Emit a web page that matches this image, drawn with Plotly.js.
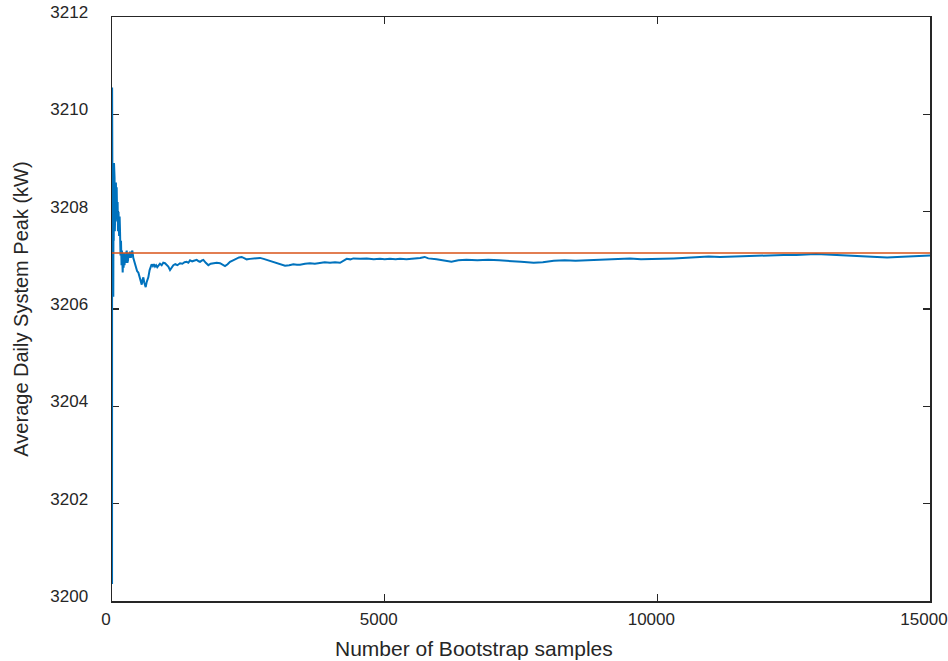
<!DOCTYPE html>
<html>
<head>
<meta charset="utf-8">
<script src="https://cdn.plot.ly/plotly-3.0.1.min.js"></script>
<style>
  html, body { margin: 0; padding: 0; background: #ffffff; }
  #chart { width: 948px; height: 661px; }
</style>
</head>
<body>
<div id="chart"></div>
<script>
// Running average of the daily system peak as bootstrap samples accumulate
const sampleCount = [
  1, 2, 3, 4, 5, 6, 7, 8, 9, 10, 12, 14, 16, 18, 20, 24, 28, 32, 37, 42,
  47, 52, 58, 65, 72, 80, 86, 95, 103, 110, 120, 130, 140, 147, 156, 165, 175, 183, 190, 196,
  205, 213, 220, 230, 238, 250, 260, 270, 282, 293, 305, 318, 330, 345, 360, 373, 390, 405, 422, 440,
  460, 483, 500, 513, 530, 545, 560, 575, 590, 605, 618, 635, 650, 666, 690, 710, 727, 750, 770, 789,
  810, 830, 850, 880, 911, 940, 972, 1000, 1033, 1064, 1095, 1125, 1160, 1200, 1247, 1290, 1330, 1370, 1400, 1431,
  1470, 1510, 1553, 1590, 1614, 1650, 1675, 1720, 1767, 1810, 1858, 1920, 1981, 2030, 2072, 2120, 2164, 2220, 2286, 2330,
  2378, 2420, 2470, 2530, 2592, 2650, 2714, 2780, 2837, 2900, 2959, 3020, 3081, 3130, 3173, 3250, 3325, 3390, 3448, 3540,
  3631, 3720, 3815, 3900, 3998, 4090, 4182, 4250, 4304, 4370, 4426, 4550, 4671, 4800, 4915, 5000, 5098, 5200, 5282, 5400,
  5550, 5650, 5733, 5800, 5950, 6100, 6225, 6350, 6500, 6700, 6900, 7100, 7300, 7500, 7732, 7900, 8100, 8300, 8500, 8700,
  8900, 9100, 9300, 9500, 9700, 9900, 10100, 10300, 10500, 10700, 10942, 11150, 11400, 11600, 11850, 12100, 12315, 12550, 12750, 12906,
  13100, 13300, 13550, 13800, 14000, 14214, 14400, 14600, 14800, 15000
];

const runningMean = [
  3200.35, 3210.55, 3203.4, 3206.2, 3208.8, 3205.4, 3207.7, 3206.3, 3209.4, 3207.0, 3208.6, 3206.4, 3208.3, 3206.8, 3207.9, 3206.25, 3208.6, 3207.4, 3209.0, 3207.8,
  3208.7, 3207.6, 3208.4, 3207.7, 3208.6, 3207.9, 3208.5, 3207.8, 3208.2, 3207.6, 3208.0, 3207.5, 3207.9, 3207.6, 3207.1, 3207.4, 3206.9, 3207.2, 3206.85, 3206.75,
  3207.1, 3206.85, 3207.15, 3206.9, 3207.05, 3206.95, 3207.15, 3207.2, 3206.95, 3207.0, 3207.15, 3207.05, 3207.18, 3207.05, 3207.15, 3207.2, 3207.05, 3206.98, 3206.92, 3206.85,
  3206.78, 3206.75, 3206.68, 3206.6, 3206.58, 3206.5, 3206.6, 3206.65, 3206.55, 3206.5, 3206.45, 3206.55, 3206.6, 3206.65, 3206.8, 3206.9, 3206.92, 3206.88, 3206.92, 3206.87,
  3206.9, 3206.86, 3206.9, 3206.93, 3206.9, 3206.95, 3206.94, 3206.9, 3206.87, 3206.8, 3206.86, 3206.9, 3206.92, 3206.9, 3206.94, 3206.93, 3206.96, 3206.97, 3206.95, 3207.0,
  3206.98, 3207.0, 3207.01, 3206.98, 3206.97, 3207.0, 3207.01, 3206.95, 3206.9, 3206.93, 3206.94, 3206.95, 3206.94, 3206.9, 3206.88, 3206.92, 3206.97, 3207.0, 3207.04, 3207.06,
  3207.07, 3207.04, 3207.02, 3207.03, 3207.04, 3207.05, 3207.05, 3207.03, 3207.01, 3206.99, 3206.97, 3206.94, 3206.92, 3206.9, 3206.89, 3206.9, 3206.92, 3206.91, 3206.91, 3206.93,
  3206.94, 3206.93, 3206.94, 3206.96, 3206.95, 3206.96, 3206.95, 3207.0, 3207.03, 3207.02, 3207.04, 3207.03, 3207.04, 3207.02, 3207.03, 3207.02, 3207.03, 3207.02, 3207.03, 3207.02,
  3207.03, 3207.05, 3207.07, 3207.04, 3207.02, 3206.99, 3206.97, 3207.0, 3207.01, 3207.0, 3207.01, 3207.0, 3206.99, 3206.97, 3206.95, 3206.96, 3206.99, 3207.0, 3206.99, 3207.0,
  3207.01, 3207.03, 3207.03, 3207.04, 3207.02, 3207.02, 3207.03, 3207.04, 3207.05, 3207.07, 3207.08, 3207.07, 3207.08, 3207.08, 3207.09, 3207.1, 3207.11, 3207.11, 3207.12, 3207.13,
  3207.12, 3207.11, 3207.1, 3207.09, 3207.07, 3207.06, 3207.07, 3207.08, 3207.09, 3207.1
];

// Average over the full data set, drawn as a flat reference line
const referencePeak = 3207.15;
const xRange = [0, 15000];

const xTicks = [0, 5000, 10000, 15000];
const yTicks = [3200, 3202, 3204, 3206, 3208, 3210, 3212];

const xTitle = 'Number of Bootstrap samples';
const yTitle = 'Average Daily System Peak (kW)';

const axisColor = '#262626';
const fontFamily = '"Liberation Sans", Arial, Helvetica, sans-serif';

const traces = [
  {
    x: sampleCount,
    y: runningMean,
    type: 'scatter',
    mode: 'lines',
    line: { color: '#0072BD', width: 2 },
    hoverinfo: 'x+y'
  },
  {
    x: xRange,
    y: [referencePeak, referencePeak],
    type: 'scatter',
    mode: 'lines',
    line: { color: '#D95319', width: 1.5 },
    hoverinfo: 'y'
  }
];

const commonAxis = {
  showgrid: false,
  zeroline: false,
  showline: true,
  linecolor: axisColor,
  linewidth: 1.5,
  mirror: 'ticks',
  ticks: 'inside',
  ticklen: 7,
  tickwidth: 1.2,
  tickcolor: axisColor,
  tickfont: { family: fontFamily, size: 17, color: axisColor },
  ticklabeloverflow: 'allow',
  layer: 'below traces'
};

const layout = {
  width: 948,
  height: 661,
  margin: { l: 112, r: 18, t: 17, b: 60 },
  paper_bgcolor: '#ffffff',
  plot_bgcolor: '#ffffff',
  showlegend: false,
  font: { family: fontFamily, color: axisColor },
  xaxis: Object.assign({}, commonAxis, {
    range: xRange,
    tickmode: 'array',
    tickvals: xTicks,
    ticktext: xTicks.map(String),
    ticklabelstandoff: 2,
    ticklabelshift: -6
  }),
  yaxis: Object.assign({}, commonAxis, {
    range: [3200, 3212],
    tickmode: 'array',
    tickvals: yTicks,
    ticktext: yTicks.map(String),
    ticklabelstandoff: 19,
    ticklabelshift: -5,
    title: { text: yTitle, font: { family: fontFamily, size: 20, color: axisColor }, standoff: 16 }
  }),
  // x-axis label centred on the whole figure rather than on the plot area
  annotations: [{
    text: xTitle,
    xref: 'paper', yref: 'paper',
    x: (474 - 112) / 818, y: 0,
    xanchor: 'center', yanchor: 'middle',
    yshift: -47,
    showarrow: false,
    font: { family: fontFamily, size: 21, color: axisColor }
  }]
};

Plotly.newPlot('chart', traces, layout, { displayModeBar: false, staticPlot: true });
</script>
</body>
</html>
